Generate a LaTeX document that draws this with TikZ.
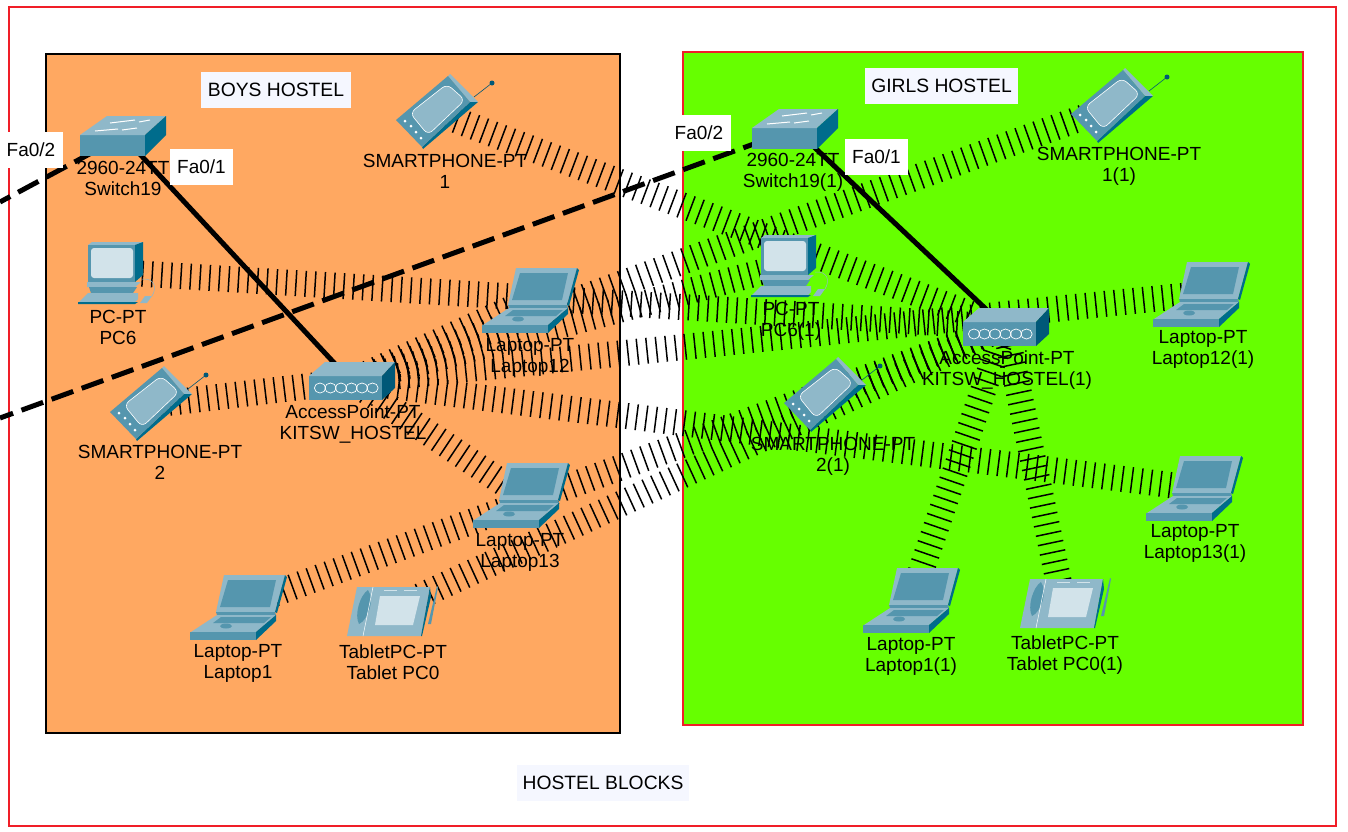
\documentclass[tikz,border=0pt]{standalone}
\usepackage{fontspec}
\setmainfont{Liberation Sans}
\usetikzlibrary{decorations.pathreplacing}
\definecolor{ORANGE}{RGB}{255,168,97}
\definecolor{GREEN}{RGB}{102,255,0}
\definecolor{FRAMERED}{RGB}{240,30,40}
\definecolor{TITLEBOX}{RGB}{245,247,255}
\definecolor{ICONTOP}{RGB}{143,184,201}
\definecolor{ICONFRONT}{RGB}{85,150,174}
\definecolor{ICONSIDE}{RGB}{0,108,140}
\definecolor{ICONDARK}{RGB}{0,88,120}
\definecolor{ICONSCREEN}{RGB}{210,227,234}
\tikzset{
  devpoint/.style={inner sep=0pt, outer sep=0pt, minimum size=0pt},
  devlabel/.style={align=center, inner sep=0pt, font=\fontsize{19}{21}\selectfont},
  portbox/.style={fill=white, inner sep=0pt, minimum width=63pt, minimum height=36pt, font=\fontsize{19}{21}\selectfont},
  titlebox/.style={fill=TITLEBOX, inner sep=0pt, minimum height=36pt, font=\fontsize{19.3}{21}\selectfont},
  wifilink/.style={line width=1.5pt, decorate, decoration={ticks, segment length=9.6pt, amplitude=13pt}},
  cablelink/.style={line width=5pt},
  crosslink/.style={line width=5pt, dash pattern=on 23pt off 9pt},
  pics/switchicon/.style={code={
    \fill[ICONFRONT] (-43,-1) rectangle (22,20);
    \fill[ICONTOP] (-43,-1) -- (-16,-20) -- (43,-20) -- (22,-1) -- cycle;
    \fill[ICONSIDE] (22,-1) -- (43,-20) -- (43,-1) -- (22,20) -- cycle;
    \draw[white, line width=1pt] (-13,-13) -- (12,-16);
    \draw[white, line width=1pt] (16,-14) -- (27,-16);
    \draw[white, line width=1pt] (-28,-5) -- (-5,-7);
    \draw[white, line width=1pt] (-1,-6) -- (14,-8);
  }},
  pics/pcicon/.style={code={
    \fill[ICONTOP] (-27,-27) -- (-23,-30) -- (28,-30) -- (20,-27) -- cycle;
    \fill[ICONSIDE] (20,-27) -- (28,-30) -- (28,3) -- (20,10) -- cycle;
    \fill[ICONFRONT] (-27,-27) rectangle (20,10);
    \fill[ICONSCREEN, rounded corners=3pt] (-24,-24) rectangle (18,6);
    \fill[ICONTOP] (-28,10) -- (26,10) -- (20,15) -- (-28,15) -- cycle;
    \fill[ICONFRONT] (-26,15) -- (22,15) -- (18,21) -- (-24,21) -- cycle;
    \fill[ICONTOP] (-27,21) -- (23,21) -- (23,27) -- (19,31) -- (-37,31) -- cycle;
    \fill[ICONSIDE] (-37,30) -- (23,30) -- (20,32) -- (-37,32) -- cycle;
    \fill[ICONTOP] (25,31) -- (32,31) -- (37,24) -- (30,24) -- cycle;
    \draw[ICONTOP, line width=.5pt] (27,7) .. controls (40,6) and (42,16) .. (37,24);
  }},
  pics/laptopicon/.style={code={
    \fill[ICONTOP] (-14,-32) -- (47,-32) -- (37,5) -- (-22,5) -- cycle;
    \fill[ICONSIDE] (47,-32) -- (49,-30) -- (39,6) -- (37,5) -- cycle;
    \fill[ICONFRONT] (-10,-27) -- (38,-27) -- (32,0) -- (-18,0) -- cycle;
    \fill[ICONFRONT] (-22,5) -- (37,5) -- (38,8) -- (-21,8) -- cycle;
    \fill[ICONTOP] (-21,8) -- (38,8) -- (18,25) -- (-47,25) -- cycle;
    \fill[ICONFRONT] (-17,10) -- (33,10) -- (26,16) -- (-25,16) -- cycle;
    \fill[ICONFRONT] (-12,19) ellipse[x radius=6, y radius=2.5];
    \fill[ICONFRONT] (-48,25) rectangle (18,33);
    \fill[ICONSIDE] (18,25) -- (38,8) -- (38,14) -- (18,33) -- cycle;
  }},
  pics/phoneicon/.style={code={
    \draw[ICONDARK, line width=.6pt] (37,-16) -- (55,-30);
    \fill[ICONDARK] (55,-30) circle[radius=2.5];
    \fill[ICONTOP] (13,-39) -- (41,-11) -- (33,-11) -- (11,-37) -- cycle;
    \fill[ICONSIDE] (-15,34) -- (33,-11) -- (41,-11) -- (-14,36) -- cycle;
    \fill[ICONFRONT] (-41,7) -- (11,-37) -- (33,-11) -- (-15,34) -- cycle;
    \draw[white, fill=ICONTOP, line width=.6pt, rounded corners=6pt] (-27,0) -- (10,-29) -- (28,-13) -- (-9,22) -- cycle;
    \fill[white] (-32,8) circle[radius=1.5];
    \fill[white] (-26,13) circle[radius=1.5];
    \fill[white] (-21,19) circle[radius=1.5];
    \fill[white] (-16,25) circle[radius=1.5];
  }},
  pics/apicon/.style={code={
    \fill[ICONFRONT] (-42,-5) rectangle (31,19);
    \fill[ICONTOP] (-42,-5) -- (-26,-19) -- (44,-19) -- (31,-5) -- cycle;
    \fill[ICONDARK] (31,-5) -- (44,-19) -- (44,7) -- (31,19) -- cycle;
    \draw[white, line width=.7pt] (-31,7) ellipse[x radius=5.6, y radius=5];
    \draw[white, line width=.7pt] (-20.5,7) ellipse[x radius=5.6, y radius=5];
    \draw[white, line width=.7pt] (-10,7) ellipse[x radius=5.6, y radius=5];
    \draw[white, line width=.7pt] (.5,7) ellipse[x radius=5.6, y radius=5];
    \draw[white, line width=.7pt] (11,7) ellipse[x radius=5.6, y radius=5];
    \draw[white, line width=.7pt] (21.5,7) ellipse[x radius=5.6, y radius=5];
  }},
  pics/tableticon/.style={code={
    \fill[ICONTOP] (-33,-23) -- (40,-23) -- (31,26) -- (-43,26) -- cycle;
    \fill[ICONSIDE] (40,-23) -- (41,-13) -- (32,26) -- (31,26) -- cycle;
    \fill[ICONFRONT] (-22,-20) .. controls (-15,-10) and (-22,10) .. (-31,14) .. controls (-36,5) and (-30,-15) .. (-22,-20) -- cycle;
    \draw[white, line width=.5pt] (-17,-23) -- (-27,26);
    \fill[ICONSCREEN] (-10,-14) -- (30,-14) -- (23,15) -- (-15,15) -- cycle;
    \fill[ICONSCREEN] (-6,-20) rectangle (7,-19);
    \fill[ICONSCREEN] (14,-20) rectangle (27,-19);
    \fill[ICONFRONT] (47,-24) -- (48,-23) -- (41,14) -- (38,14) -- cycle;
  }},
}
\begin{document}
\begin{tikzpicture}[x=1pt,y=-1pt]

% page and the three frames
\path[use as bounding box, fill=white] (0,0) rectangle (1348,831);
\draw[FRAMERED, line width=1.2pt] (9,7) rectangle (1336,826);
\draw[black, line width=1.4pt, fill=ORANGE] (46,54) rectangle (620,733);
\draw[FRAMERED, line width=1.2pt, fill=GREEN] (683,52) rectangle (1303,725);

% device positions
\node[devpoint] (switchB) at (123,136) {};
\node[devpoint] (phoneOneB) at (437,113) {};
\node[devpoint] (pcB) at (115,272) {};
\node[devpoint] (laptopTwelveB) at (530,300) {};
\node[devpoint] (apB) at (351,381) {};
\node[devpoint] (phoneTwoB) at (151,405) {};
\node[devpoint] (laptopThirteenB) at (521,495) {};
\node[devpoint] (laptopOneB) at (238,607) {};
\node[devpoint] (tabletB) at (390,610) {};
\node[devpoint] (switchG) at (795,129) {};
\node[devpoint] (phoneOneG) at (1112,107) {};
\node[devpoint] (pcG) at (788,265) {};
\node[devpoint] (laptopTwelveG) at (1201,294) {};
\node[devpoint] (apG) at (1005,327) {};
\node[devpoint] (phoneTwoG) at (825,396) {};
\node[devpoint] (laptopThirteenG) at (1194,488) {};
\node[devpoint] (laptopOneG) at (911,600) {};
\node[devpoint] (tabletG) at (1063,602) {};
\coordinate (edgeTop) at (0,202);
\coordinate (edgeBottom) at (0,418);

% wireless links
\draw[wifilink] (apB) -- (phoneTwoB);
\draw[wifilink] (apB) -- (laptopTwelveB);
\draw[wifilink] (apB) -- (laptopThirteenB);
\draw[wifilink] (apB) -- (phoneOneG);
\draw[wifilink] (apB) -- (pcG);
\draw[wifilink] (apB) -- (laptopTwelveG);
\draw[wifilink] (apB) -- (laptopThirteenG);
\draw[wifilink] (apG) -- (phoneOneB);
\draw[wifilink] (apG) -- (pcB);
\draw[wifilink] (apG) -- (laptopOneB);
\draw[wifilink] (apG) -- (tabletB);
\draw[wifilink] (apG) -- (phoneTwoG);
\draw[wifilink] (apG) -- (laptopOneG);
\draw[wifilink] (apG) -- (tabletG);

% cables
\draw[cablelink] (switchB) -- (apB);
\draw[cablelink] (switchG) -- (apG);
\draw[crosslink] (switchB) -- (edgeTop);
\draw[crosslink] (switchG) -- (edgeBottom);

% icons
\pic at (switchB) {switchicon};
\pic at (phoneOneB) {phoneicon};
\pic at (pcB) {pcicon};
\pic at (laptopTwelveB) {laptopicon};
\pic at (apB) {apicon};
\pic at (phoneTwoB) {phoneicon};
\pic at (laptopThirteenB) {laptopicon};
\pic at (laptopOneB) {laptopicon};
\pic at (tabletB) {tableticon};
\pic at (switchG) {switchicon};
\pic at (phoneOneG) {phoneicon};
\pic at (pcG) {pcicon};
\pic at (laptopTwelveG) {laptopicon};
\pic at (apG) {apicon};
\pic at (phoneTwoG) {phoneicon};
\pic at (laptopThirteenG) {laptopicon};
\pic at (laptopOneG) {laptopicon};
\pic at (tabletG) {tableticon};

% device labels
\node[devlabel] (switchBText) at (123,178) {2960-24TT\\Switch19};
\node[devlabel] (phoneOneBText) at (445,171) {SMARTPHONE-PT\\1};
\node[devlabel] (pcBText) at (118,327) {PC-PT\\PC6};
\node[devlabel] (laptopTwelveBText) at (530,357) {Laptop-PT\\Laptop12};
\node[devlabel] (apBText) at (353,424) {AccessPoint-PT\\KITSW\_HOSTEL};
\node[devlabel] (phoneTwoBText) at (160,462) {SMARTPHONE-PT\\2};
\node[devlabel] (laptopThirteenBText) at (520,552) {Laptop-PT\\Laptop13};
\node[devlabel] (laptopOneBText) at (238,663) {Laptop-PT\\Laptop1};
\node[devlabel] (tabletBText) at (393,662) {TabletPC-PT\\Tablet PC0};
\node[devlabel] (switchGText) at (793,172) {2960-24TT\\Switch19(1)};
\node[devlabel] (phoneOneGText) at (1119,166) {SMARTPHONE-PT\\1(1)};
\node[devlabel] (pcGText) at (791,321) {PC-PT\\PC6(1)};
\node[devlabel] (laptopTwelveGText) at (1203,349) {Laptop-PT\\Laptop12(1)};
\node[devlabel] (apGText) at (1007,370) {AccessPoint-PT\\KITSW\_HOSTEL(1)};
\node[devlabel] (phoneTwoGText) at (833,456) {SMARTPHONE-PT\\2(1)};
\node[devlabel] (laptopThirteenGText) at (1195,543) {Laptop-PT\\Laptop13(1)};
\node[devlabel] (laptopOneGText) at (911,656) {Laptop-PT\\Laptop1(1)};
\node[devlabel] (tabletGText) at (1065,655) {TabletPC-PT\\Tablet PC0(1)};

% port and block labels
\node[portbox] (portTwoB) at (31,150) {Fa0/2};
\node[portbox] (portOneB) at (201.5,167) {Fa0/1};
\node[portbox] (portTwoG) at (699,132.5) {Fa0/2};
\node[portbox] (portOneG) at (876.5,157) {Fa0/1};
\node[titlebox, minimum width=150pt] (titleBoys) at (276,90) {BOYS HOSTEL};
\node[titlebox, minimum width=153pt] (titleGirls) at (941.5,85.5) {GIRLS HOSTEL};
\node[titlebox, minimum width=172pt] (titleBlocks) at (603,783) {HOSTEL BLOCKS};
\end{tikzpicture}
\end{document}
